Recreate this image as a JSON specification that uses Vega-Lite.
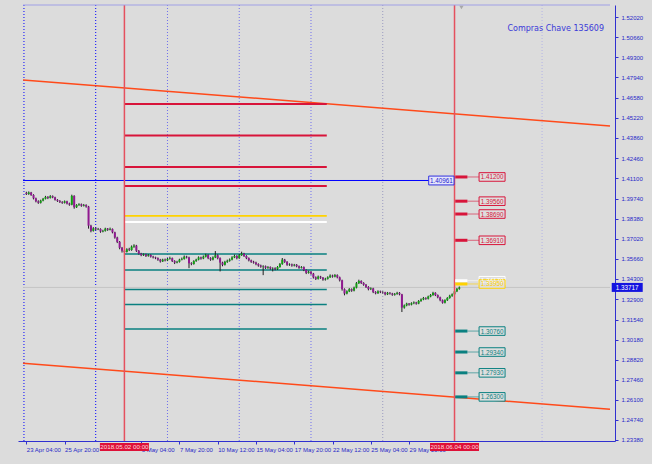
{
"$schema": "https://vega.github.io/schema/vega-lite/v6.json",
"width": 597, "height": 436,
"autosize": {"type": "none"},
"padding": {"left": 18, "top": 5, "right": 37, "bottom": 23},
"background": "#dcdcdc",
"config": {"view": {"stroke": null}, "font": "Liberation Sans", "axis": {"labelOverlap": false}},
"datasets": {
"candles": [
{"i":0,"o":1.4012,"h":1.4020,"l":1.3998,"c":1.4005},{"i":1,"o":1.4005,"h":1.4022,"l":1.3999,"c":1.4015},{"i":2,"o":1.4015,"h":1.4019,"l":1.3992,"c":1.3998},{"i":3,"o":1.3998,"h":1.4003,"l":1.3968,"c":1.3975},{"i":4,"o":1.3975,"h":1.3980,"l":1.3948,"c":1.3955},{"i":5,"o":1.3955,"h":1.3962,"l":1.3938,"c":1.3945},{"i":6,"o":1.3945,"h":1.3966,"l":1.3940,"c":1.3960},{"i":7,"o":1.3960,"h":1.3978,"l":1.3955,"c":1.3972},{"i":8,"o":1.3972,"h":1.3992,"l":1.3968,"c":1.3985},{"i":9,"o":1.3985,"h":1.3990,"l":1.3970,"c":1.3978},
{"i":10,"o":1.3978,"h":1.3997,"l":1.3974,"c":1.3990},{"i":11,"o":1.3990,"h":1.3995,"l":1.3976,"c":1.3982},{"i":12,"o":1.3982,"h":1.3986,"l":1.3960,"c":1.3965},{"i":13,"o":1.3965,"h":1.3970,"l":1.3951,"c":1.3958},{"i":14,"o":1.3958,"h":1.3963,"l":1.3944,"c":1.3950},{"i":15,"o":1.3950,"h":1.3956,"l":1.3938,"c":1.3945},{"i":16,"o":1.3945,"h":1.3961,"l":1.3940,"c":1.3955},{"i":17,"o":1.3955,"h":1.3959,"l":1.3934,"c":1.3940},{"i":18,"o":1.3940,"h":1.3946,"l":1.3925,"c":1.3932},{"i":19,"o":1.3932,"h":1.4000,"l":1.3928,"c":1.3992},
{"i":20,"o":1.3992,"h":1.3996,"l":1.3905,"c":1.3915},{"i":21,"o":1.3915,"h":1.3936,"l":1.3910,"c":1.3930},{"i":22,"o":1.3930,"h":1.3942,"l":1.3924,"c":1.3935},{"i":23,"o":1.3935,"h":1.3940,"l":1.3918,"c":1.3925},{"i":24,"o":1.3925,"h":1.3937,"l":1.3920,"c":1.3930},{"i":25,"o":1.3930,"h":1.3935,"l":1.3912,"c":1.3920},{"i":26,"o":1.3920,"h":1.3924,"l":1.3770,"c":1.3790},{"i":27,"o":1.3790,"h":1.3796,"l":1.3745,"c":1.3755},{"i":28,"o":1.3755,"h":1.3780,"l":1.3750,"c":1.3772},{"i":29,"o":1.3772,"h":1.3778,"l":1.3758,"c":1.3765},
{"i":30,"o":1.3765,"h":1.3775,"l":1.3760,"c":1.3768},{"i":31,"o":1.3768,"h":1.3772,"l":1.3742,"c":1.3750},{"i":32,"o":1.3750,"h":1.3762,"l":1.3745,"c":1.3755},{"i":33,"o":1.3755,"h":1.3776,"l":1.3750,"c":1.3770},{"i":34,"o":1.3770,"h":1.3774,"l":1.3755,"c":1.3762},{"i":35,"o":1.3762,"h":1.3777,"l":1.3758,"c":1.3768},{"i":36,"o":1.3768,"h":1.3771,"l":1.3738,"c":1.3745},{"i":37,"o":1.3745,"h":1.3749,"l":1.3702,"c":1.3710},{"i":38,"o":1.3710,"h":1.3715,"l":1.3672,"c":1.3680},{"i":39,"o":1.3680,"h":1.3686,"l":1.3630,"c":1.3640},
{"i":40,"o":1.3640,"h":1.3646,"l":1.3608,"c":1.3620},{"i":41,"o":1.3620,"h":1.3628,"l":1.3604,"c":1.3612},{"i":42,"o":1.3612,"h":1.3637,"l":1.3608,"c":1.3630},{"i":43,"o":1.3630,"h":1.3640,"l":1.3618,"c":1.3625},{"i":44,"o":1.3625,"h":1.3656,"l":1.3620,"c":1.3648},{"i":45,"o":1.3648,"h":1.3664,"l":1.3640,"c":1.3655},{"i":46,"o":1.3655,"h":1.3660,"l":1.3612,"c":1.3620},{"i":47,"o":1.3620,"h":1.3625,"l":1.3594,"c":1.3600},{"i":48,"o":1.3600,"h":1.3606,"l":1.3583,"c":1.3590},{"i":49,"o":1.3590,"h":1.3602,"l":1.3585,"c":1.3595},
{"i":50,"o":1.3595,"h":1.3600,"l":1.3578,"c":1.3585},{"i":51,"o":1.3585,"h":1.3598,"l":1.3580,"c":1.3592},{"i":52,"o":1.3592,"h":1.3596,"l":1.3574,"c":1.3580},{"i":53,"o":1.3580,"h":1.3586,"l":1.3568,"c":1.3575},{"i":54,"o":1.3575,"h":1.3580,"l":1.3563,"c":1.3570},{"i":55,"o":1.3570,"h":1.3575,"l":1.3552,"c":1.3560},{"i":56,"o":1.3560,"h":1.3565,"l":1.3540,"c":1.3548},{"i":57,"o":1.3548,"h":1.3566,"l":1.3544,"c":1.3560},{"i":58,"o":1.3560,"h":1.3567,"l":1.3548,"c":1.3555},{"i":59,"o":1.3555,"h":1.3572,"l":1.3550,"c":1.3565},
{"i":60,"o":1.3565,"h":1.3580,"l":1.3560,"c":1.3570},{"i":61,"o":1.3570,"h":1.3574,"l":1.3544,"c":1.3550},{"i":62,"o":1.3550,"h":1.3556,"l":1.3530,"c":1.3540},{"i":63,"o":1.3540,"h":1.3552,"l":1.3535,"c":1.3545},{"i":64,"o":1.3545,"h":1.3566,"l":1.3540,"c":1.3560},{"i":65,"o":1.3560,"h":1.3574,"l":1.3555,"c":1.3565},{"i":66,"o":1.3565,"h":1.3588,"l":1.3560,"c":1.3580},{"i":67,"o":1.3580,"h":1.3586,"l":1.3568,"c":1.3575},{"i":68,"o":1.3575,"h":1.3580,"l":1.3502,"c":1.3535},{"i":69,"o":1.3535,"h":1.3542,"l":1.3522,"c":1.3530},
{"i":70,"o":1.3530,"h":1.3556,"l":1.3526,"c":1.3550},{"i":71,"o":1.3550,"h":1.3566,"l":1.3545,"c":1.3560},{"i":72,"o":1.3560,"h":1.3582,"l":1.3555,"c":1.3575},{"i":73,"o":1.3575,"h":1.3580,"l":1.3560,"c":1.3568},{"i":74,"o":1.3568,"h":1.3588,"l":1.3563,"c":1.3580},{"i":75,"o":1.3580,"h":1.3600,"l":1.3575,"c":1.3592},{"i":76,"o":1.3592,"h":1.3596,"l":1.3563,"c":1.3570},{"i":77,"o":1.3570,"h":1.3576,"l":1.3552,"c":1.3560},{"i":78,"o":1.3560,"h":1.3582,"l":1.3555,"c":1.3575},{"i":79,"o":1.3575,"h":1.3618,"l":1.3570,"c":1.3590},
{"i":80,"o":1.3590,"h":1.3596,"l":1.3562,"c":1.3570},{"i":81,"o":1.3570,"h":1.3575,"l":1.3480,"c":1.3540},{"i":82,"o":1.3540,"h":1.3546,"l":1.3515,"c":1.3525},{"i":83,"o":1.3525,"h":1.3552,"l":1.3520,"c":1.3545},{"i":84,"o":1.3545,"h":1.3560,"l":1.3538,"c":1.3552},{"i":85,"o":1.3552,"h":1.3568,"l":1.3546,"c":1.3560},{"i":86,"o":1.3560,"h":1.3583,"l":1.3555,"c":1.3575},{"i":87,"o":1.3575,"h":1.3594,"l":1.3570,"c":1.3585},{"i":88,"o":1.3585,"h":1.3590,"l":1.3562,"c":1.3570},{"i":89,"o":1.3570,"h":1.3598,"l":1.3565,"c":1.3590},
{"i":90,"o":1.3590,"h":1.3614,"l":1.3585,"c":1.3600},{"i":91,"o":1.3600,"h":1.3606,"l":1.3578,"c":1.3585},{"i":92,"o":1.3585,"h":1.3590,"l":1.3563,"c":1.3570},{"i":93,"o":1.3570,"h":1.3575,"l":1.3548,"c":1.3555},{"i":94,"o":1.3555,"h":1.3560,"l":1.3538,"c":1.3545},{"i":95,"o":1.3545,"h":1.3552,"l":1.3533,"c":1.3540},{"i":96,"o":1.3540,"h":1.3546,"l":1.3522,"c":1.3530},{"i":97,"o":1.3530,"h":1.3535,"l":1.3512,"c":1.3520},{"i":98,"o":1.3520,"h":1.3526,"l":1.3505,"c":1.3512},{"i":99,"o":1.3512,"h":1.3522,"l":1.3455,"c":1.3515},
{"i":100,"o":1.3515,"h":1.3520,"l":1.3497,"c":1.3505},{"i":101,"o":1.3505,"h":1.3516,"l":1.3498,"c":1.3510},{"i":102,"o":1.3510,"h":1.3514,"l":1.3492,"c":1.3500},{"i":103,"o":1.3500,"h":1.3508,"l":1.3480,"c":1.3502},{"i":104,"o":1.3502,"h":1.3508,"l":1.3488,"c":1.3495},{"i":105,"o":1.3495,"h":1.3516,"l":1.3490,"c":1.3510},{"i":106,"o":1.3510,"h":1.3537,"l":1.3505,"c":1.3530},{"i":107,"o":1.3530,"h":1.3571,"l":1.3525,"c":1.3560},{"i":108,"o":1.3560,"h":1.3565,"l":1.3538,"c":1.3545},{"i":109,"o":1.3545,"h":1.3550,"l":1.3518,"c":1.3525},
{"i":110,"o":1.3525,"h":1.3535,"l":1.3518,"c":1.3528},{"i":111,"o":1.3528,"h":1.3533,"l":1.3512,"c":1.3520},{"i":112,"o":1.3520,"h":1.3531,"l":1.3514,"c":1.3525},{"i":113,"o":1.3525,"h":1.3530,"l":1.3508,"c":1.3515},{"i":114,"o":1.3515,"h":1.3520,"l":1.3498,"c":1.3505},{"i":115,"o":1.3505,"h":1.3516,"l":1.3500,"c":1.3510},{"i":116,"o":1.3510,"h":1.3514,"l":1.3482,"c":1.3490},{"i":117,"o":1.3490,"h":1.3494,"l":1.3462,"c":1.3470},{"i":118,"o":1.3470,"h":1.3485,"l":1.3465,"c":1.3478},{"i":119,"o":1.3478,"h":1.3482,"l":1.3458,"c":1.3465},
{"i":120,"o":1.3465,"h":1.3470,"l":1.3432,"c":1.3440},{"i":121,"o":1.3440,"h":1.3446,"l":1.3422,"c":1.3430},{"i":122,"o":1.3430,"h":1.3452,"l":1.3425,"c":1.3445},{"i":123,"o":1.3445,"h":1.3450,"l":1.3430,"c":1.3438},{"i":124,"o":1.3438,"h":1.3442,"l":1.3417,"c":1.3425},{"i":125,"o":1.3425,"h":1.3437,"l":1.3418,"c":1.3430},{"i":126,"o":1.3430,"h":1.3447,"l":1.3425,"c":1.3440},{"i":127,"o":1.3440,"h":1.3460,"l":1.3436,"c":1.3452},{"i":128,"o":1.3452,"h":1.3458,"l":1.3438,"c":1.3445},{"i":129,"o":1.3445,"h":1.3462,"l":1.3440,"c":1.3455},
{"i":130,"o":1.3455,"h":1.3460,"l":1.3433,"c":1.3440},{"i":131,"o":1.3440,"h":1.3445,"l":1.3412,"c":1.3420},{"i":132,"o":1.3420,"h":1.3424,"l":1.3350,"c":1.3360},{"i":133,"o":1.3360,"h":1.3365,"l":1.3318,"c":1.3330},{"i":134,"o":1.3330,"h":1.3352,"l":1.3325,"c":1.3345},{"i":135,"o":1.3345,"h":1.3367,"l":1.3340,"c":1.3360},{"i":136,"o":1.3360,"h":1.3365,"l":1.3342,"c":1.3350},{"i":137,"o":1.3350,"h":1.3377,"l":1.3345,"c":1.3370},{"i":138,"o":1.3370,"h":1.3408,"l":1.3365,"c":1.3400},{"i":139,"o":1.3400,"h":1.3424,"l":1.3395,"c":1.3415},
{"i":140,"o":1.3415,"h":1.3420,"l":1.3395,"c":1.3402},{"i":141,"o":1.3402,"h":1.3407,"l":1.3383,"c":1.3390},{"i":142,"o":1.3390,"h":1.3395,"l":1.3368,"c":1.3375},{"i":143,"o":1.3375,"h":1.3380,"l":1.3352,"c":1.3360},{"i":144,"o":1.3360,"h":1.3372,"l":1.3354,"c":1.3365},{"i":145,"o":1.3365,"h":1.3369,"l":1.3333,"c":1.3340},{"i":146,"o":1.3340,"h":1.3346,"l":1.3325,"c":1.3332},{"i":147,"o":1.3332,"h":1.3352,"l":1.3328,"c":1.3345},{"i":148,"o":1.3345,"h":1.3350,"l":1.3333,"c":1.3340},{"i":149,"o":1.3340,"h":1.3346,"l":1.3330,"c":1.3338},
{"i":150,"o":1.3338,"h":1.3342,"l":1.3318,"c":1.3325},{"i":151,"o":1.3325,"h":1.3341,"l":1.3320,"c":1.3335},{"i":152,"o":1.3335,"h":1.3340,"l":1.3323,"c":1.3330},{"i":153,"o":1.3330,"h":1.3335,"l":1.3315,"c":1.3322},{"i":154,"o":1.3322,"h":1.3334,"l":1.3316,"c":1.3328},{"i":155,"o":1.3328,"h":1.3342,"l":1.3322,"c":1.3335},{"i":156,"o":1.3335,"h":1.3340,"l":1.3318,"c":1.3325},{"i":157,"o":1.3325,"h":1.3328,"l":1.3205,"c":1.3235},{"i":158,"o":1.3235,"h":1.3256,"l":1.3228,"c":1.3250},{"i":159,"o":1.3250,"h":1.3268,"l":1.3244,"c":1.3262},
{"i":160,"o":1.3262,"h":1.3266,"l":1.3248,"c":1.3255},{"i":161,"o":1.3255,"h":1.3271,"l":1.3250,"c":1.3265},{"i":162,"o":1.3265,"h":1.3277,"l":1.3258,"c":1.3270},{"i":163,"o":1.3270,"h":1.3274,"l":1.3255,"c":1.3262},{"i":164,"o":1.3262,"h":1.3286,"l":1.3258,"c":1.3280},{"i":165,"o":1.3280,"h":1.3297,"l":1.3274,"c":1.3290},{"i":166,"o":1.3290,"h":1.3307,"l":1.3285,"c":1.3300},{"i":167,"o":1.3300,"h":1.3305,"l":1.3288,"c":1.3295},{"i":168,"o":1.3295,"h":1.3316,"l":1.3290,"c":1.3310},{"i":169,"o":1.3310,"h":1.3327,"l":1.3305,"c":1.3320},
{"i":170,"o":1.3320,"h":1.3342,"l":1.3315,"c":1.3335},{"i":171,"o":1.3335,"h":1.3339,"l":1.3313,"c":1.3320},{"i":172,"o":1.3320,"h":1.3324,"l":1.3298,"c":1.3305},{"i":173,"o":1.3305,"h":1.3309,"l":1.3278,"c":1.3285},{"i":174,"o":1.3285,"h":1.3290,"l":1.3262,"c":1.3268},{"i":175,"o":1.3268,"h":1.3291,"l":1.3263,"c":1.3285},{"i":176,"o":1.3285,"h":1.3306,"l":1.3280,"c":1.3300},{"i":177,"o":1.3300,"h":1.3322,"l":1.3295,"c":1.3315},{"i":178,"o":1.3315,"h":1.3331,"l":1.3308,"c":1.3325},{"i":179,"o":1.3325,"h":1.3352,"l":1.3320,"c":1.3345},
{"i":180,"o":1.3345,"h":1.3368,"l":1.3340,"c":1.3362},{"i":181,"o":1.3362,"h":1.3378,"l":1.3356,"c":1.33717}
],
"seps": [{"i":-1,"k":"d"},{"i":29,"k":"d"},{"i":59,"k":"l"},{"i":89,"k":"l"},{"i":119,"k":"l"},{"i":149,"k":"g"},{"i":215.6,"k":"v"}],
"diag": [{"x1":-1.4,"p1":1.4777,"x2":244,"p2":1.4465},{"x1":-1.4,"p1":1.2858,"x2":244,"p2":1.2546}],
"levels": [{"p":1.4614,"k":"red"},{"p":1.4401,"k":"red"},{"p":1.4188,"k":"red"},{"p":1.4059,"k":"red"},{"p":1.3856,"k":"yellow"},{"p":1.3815,"k":"white"},{"p":1.3598,"k":"teal"},{"p":1.3490,"k":"teal"},{"p":1.3358,"k":"teal"},{"p":1.3256,"k":"teal"},{"p":1.3090,"k":"teal"}],
"marks": [{"p":1.412,"lbl":"1.41200","k":"red"},{"p":1.3956,"lbl":"1.39560","k":"red"},{"p":1.3869,"lbl":"1.38690","k":"red"},{"p":1.3691,"lbl":"1.36910","k":"red"},{"p":1.3417,"lbl":"1.34170","k":"white"},{"p":1.3395,"lbl":"1.33950","k":"yellow"},{"p":1.3076,"lbl":"1.30760","k":"teal"},{"p":1.2934,"lbl":"1.29340","k":"teal"},{"p":1.2793,"lbl":"1.27930","k":"teal"},{"p":1.263,"lbl":"1.26300","k":"teal"}],
"vlines": [{"i":41,"lbl":"2018.05.02 00:00"},{"i":179,"lbl":"2018.06.04 00:00"}],
"blue": [{"p":1.40961,"lbl":"1.40961"}],
"price": [{"p":1.33717,"lbl":"1.33717"}]
},
"layer": [
{"data":{"name":"seps"},"mark":{"type":"rule","strokeDash":[1,2],"strokeWidth":1},
 "encoding":{"x":{"field":"i","type":"quantitative","scale":{"domain":[-1.4,244],"nice":false,"zero":false},
  "axis":{"values":[0,16,48,64,80,96,112,128,144,160],"tickCount":40,"labelExpr":"['23 Apr 04:00','25 Apr 20:00','30 Apr 12:00','3 May 04:00','7 May 20:00','10 May 12:00','15 May 04:00','17 May 20:00','22 May 12:00','25 May 04:00','29 May 20:00','1 Jun 12:00'][round(datum.value/16)]","title":null,"grid":false,"domainColor":"#3030d0","tickColor":"#3030d0","tickSize":3,"labelColor":"#2828c8","labelFont":"Liberation Sans","labelFontSize":6,"labelAlign":"left","labelPadding":2,"labelFlush":false,"labelOverlap":false,"labelBound":false}},
  "color":{"field":"k","type":"nominal","scale":{"domain":["red","white","yellow","teal","d","l","g","v"],"range":["#d8143a","#ffffff","#ffd200","#0a8080","#0000ff","#7070ee","#9a9ac0","#b4b4e6"]},"legend":null}}},
{"data":{"name":"diag"},"mark":{"type":"rule","color":"#ff4a1a","strokeWidth":1.5},
 "encoding":{"x":{"field":"x1","type":"quantitative"},
  "x2":{"field":"x2"},
  "y":{"field":"p1","type":"quantitative","scale":{"domain":[1.23312,1.52851],"nice":false,"zero":false},
   "axis":{"orient":"right","values":[1.5202,1.5066,1.493,1.4794,1.4658,1.4522,1.4386,1.4246,1.411,1.3974,1.3838,1.3702,1.3566,1.343,1.329,1.3154,1.3018,1.2882,1.2746,1.261,1.2474,1.2338],"tickCount":40,"format":".5f","title":null,"grid":false,"domainColor":"#3030d0","tickColor":"#3030d0","tickSize":3,"labelColor":"#2828c8","labelFont":"Liberation Sans","labelFontSize":6,"labelPadding":3,"labelOverlap":false,"labelBound":false,"labelFlush":false}},
  "y2":{"field":"p2"}}},
{"data":{"name":"levels"},"mark":{"type":"rule"},
 "encoding":{"x":{"datum":41,"type":"quantitative"},
  "x2":{"datum":125.6},
  "y":{"field":"p","type":"quantitative"},
  "color":{"field":"k","type":"nominal","legend":null},
  "strokeWidth":{"field":"k","type":"nominal","scale":{"domain":["red","white","yellow","teal"],"range":[2,1.5,2.5,2.2]},"legend":null}}},
{"data":{"name":"blue"},"mark":{"type":"rule","color":"#0000ff","strokeWidth":1},
 "encoding":{"x":{"datum":-1.4,"type":"quantitative"},
  "x2":{"datum":168.3},
  "y":{"field":"p","type":"quantitative"}}},
{"data":{"name":"price"},"mark":{"type":"rule","color":"#c4c4c4","strokeWidth":1},
 "encoding":{"x":{"datum":-1.4,"type":"quantitative"},
  "x2":{"datum":244},
  "y":{"field":"p","type":"quantitative"}}},
{"data":{"name":"candles"},"mark":{"type":"rule","color":"#1e1e1e","strokeWidth":1},
 "encoding":{"x":{"field":"i","type":"quantitative"},
  "y":{"field":"l","type":"quantitative"},
  "y2":{"field":"h"}}},
{"data":{"name":"candles"},"mark":{"type":"bar","size":2},
 "encoding":{"x":{"field":"i","type":"quantitative"},
  "y":{"field":"o","type":"quantitative"},
  "y2":{"field":"c"},
  "color":{"condition":{"test":"datum.c >= datum.o","value":"#12a012"},"value":"#901890"}}},
{"data":{"name":"vlines"},"mark":{"type":"rule","color":"#e5505e","strokeWidth":1.5},
 "encoding":{"x":{"field":"i","type":"quantitative"}}},
{"data":{"name":"marks"},"mark":{"type":"rule","strokeWidth":3},
 "encoding":{"x":{"datum":179.3,"type":"quantitative"},
  "x2":{"datum":184.4},
  "y":{"field":"p","type":"quantitative"},
  "color":{"field":"k","type":"nominal","legend":null}}},
{"data":{"name":"marks"},"mark":{"type":"rule","strokeWidth":1,"opacity":0.6},
 "encoding":{"x":{"datum":184.4,"type":"quantitative"},
  "x2":{"datum":189.3},
  "y":{"field":"p","type":"quantitative"},
  "color":{"field":"k","type":"nominal","legend":null}}},
{"data":{"name":"marks"},"mark":{"type":"point","shape":"M-1,-0.33H1V0.33H-1Z","size":676,"filled":false,"strokeWidth":1,"fill":"#dedede","fillOpacity":1,"opacity":1},
 "encoding":{"x":{"datum":194.7,"type":"quantitative"},
  "y":{"field":"p","type":"quantitative"},
  "stroke":{"field":"k","type":"nominal","scale":{"domain":["red","white","yellow","teal"],"range":["#d8143a","#ffffff","#ffd200","#0a8080"]},"legend":null}}},
{"data":{"name":"marks"},"mark":{"type":"text","fontSize":6.3,"font":"Liberation Sans","baseline":"middle","align":"center","dy":0.5},
 "encoding":{"x":{"datum":194.7,"type":"quantitative"},
  "y":{"field":"p","type":"quantitative"},
  "text":{"field":"lbl"},
  "color":{"field":"k","type":"nominal","legend":null}}},
{"data":{"name":"blue"},"mark":{"type":"point","shape":"M-1,-0.35H1V0.35H-1Z","size":640,"filled":false,"strokeWidth":1,"stroke":"#3030e0","fill":"#e6e6fa","fillOpacity":1,"opacity":1},
 "encoding":{"x":{"datum":173.5,"type":"quantitative"},
  "y":{"field":"p","type":"quantitative"}}},
{"data":{"name":"blue"},"mark":{"type":"text","fontSize":6.3,"font":"Liberation Sans","baseline":"middle","align":"center","dy":0.5,"color":"#2020d0"},
 "encoding":{"x":{"datum":173.5,"type":"quantitative"},
  "y":{"field":"p","type":"quantitative"},
  "text":{"field":"lbl"}}},
{"data":{"name":"price"},"mark":{"type":"point","shape":"M-1,-0.29H1V0.29H-1Z","size":961,"filled":true,"color":"#1414e0","opacity":1},
 "encoding":{"x":{"datum":251.2,"type":"quantitative"},
  "y":{"field":"p","type":"quantitative"}}},
{"data":{"name":"price"},"mark":{"type":"text","fontSize":6.3,"font":"Liberation Sans","baseline":"middle","align":"center","dy":0.5,"color":"#ffffff"},
 "encoding":{"x":{"datum":251.2,"type":"quantitative"},
  "y":{"field":"p","type":"quantitative"},
  "text":{"field":"lbl"}}},
{"data":{"name":"vlines"},"mark":{"type":"point","shape":"M-1,-0.165H1V0.165H-1Z","size":2401,"filled":true,"color":"#de1038","opacity":1},
 "encoding":{"x":{"field":"i","type":"quantitative"},
  "y":{"datum":1.22906,"type":"quantitative"}}},
{"data":{"name":"vlines"},"mark":{"type":"text","fontSize":6.2,"font":"Liberation Sans","baseline":"middle","align":"center","dy":0.5,"color":"#ffd8dc"},
 "encoding":{"x":{"field":"i","type":"quantitative"},
  "y":{"datum":1.22906,"type":"quantitative"},
  "text":{"field":"lbl"}}},
{"data":{"values":[{"t":"Compras Chave 135609"}]},"mark":{"type":"text","fontSize":8,"font":"DejaVu Sans","align":"right","baseline":"middle","color":"#3a3ad8"},
 "encoding":{"x":{"datum":241.5,"type":"quantitative"},
  "y":{"datum":1.5123,"type":"quantitative"},
  "text":{"field":"t"}}},
{"data":{"values":[{"t":"top"}]},"mark":{"type":"rule","color":"#a0a0e6","strokeWidth":1},
 "encoding":{"x":{"datum":-1.4,"type":"quantitative"},
  "x2":{"datum":244},
  "y":{"datum":1.52851,"type":"quantitative"}}},
{"data":{"values":[{"t":"shift"}]},"mark":{"type":"point","shape":"triangle-down","size":18,"filled":true,"color":"#a8a8a8","opacity":1},
 "encoding":{"x":{"datum":181.9,"type":"quantitative"},
  "y":{"datum":1.5268,"type":"quantitative"}}}
]
}
